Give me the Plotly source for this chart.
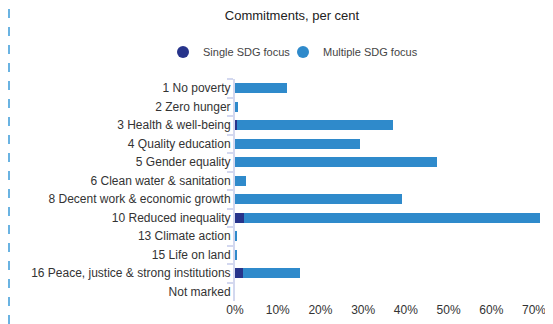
import plotly.graph_objects as go

categories = ["1 No poverty", "2 Zero hunger", "3 Health & well-being", "4 Quality education",
              "5 Gender equality", "6 Clean water & sanitation", "8 Decent work & economic growth",
              "10 Reduced inequality", "13 Climate action", "15 Life on land",
              "16 Peace, justice & strong institutions", "Not marked"]
single_sdg = [0, 0, 0.4, 0, 0, 0, 0, 2.1, 0, 0, 1.9, 0]
multiple_sdg = [12.1, 0.8, 36.5, 29.2, 47.4, 2.5, 39.2, 69.2, 0.4, 0.4, 13.2, 0]
x_ticks = [0, 10, 20, 30, 40, 50, 60, 70]
x_tick_labels = ["0%", "10%", "20%", "30%", "40%", "50%", "60%", "70%"]

navy = "#27348b"
blue = "#2f8acb"
axis_col = "#d3d8ef"

W, H = 545, 316
L, R, T, B = 227, 10, 71, 23
PW, PH = W - L - R, H - T - B

fig = go.Figure()
fig.add_trace(go.Bar(y=categories, x=single_sdg, orientation="h", marker_color=navy,
                     marker_line_width=0, name="Single SDG focus", showlegend=False))
fig.add_trace(go.Bar(y=categories, x=multiple_sdg, orientation="h", marker_color=blue,
                     marker_line_width=0, name="Multiple SDG focus", showlegend=False))
fig.add_trace(go.Scatter(x=[None], y=[None], mode="markers", name="Single SDG focus",
                         legend="legend",
                         marker=dict(symbol="circle", size=11, color=navy)))
fig.add_trace(go.Scatter(x=[None], y=[None], mode="markers", name="Multiple SDG focus",
                         legend="legend2",
                         marker=dict(symbol="circle", size=11, color=blue)))

leg_common = dict(orientation="h", xref="container", yref="container", xanchor="left",
                  y=1 - 44 / H, yanchor="middle", bgcolor="rgba(0,0,0,0)",
                  font=dict(size=11, color="#444444"), itemsizing="constant")

fig.update_layout(
    width=W, height=H,
    margin=dict(l=L, r=R, t=T, b=B, autoexpand=False),
    barmode="stack", bargap=0.45,
    paper_bgcolor="white", plot_bgcolor="white",
    font=dict(family="Liberation Sans, Arial, sans-serif", size=12, color="#333333"),
    title=dict(text="Commitments, per cent", x=284 / W, xanchor="center", y=1 - 7 / H,
               yanchor="middle", font=dict(size=13, color="#222222")),
    legend=dict(x=155 / W, **leg_common),
    legend2=dict(x=275 / W, **leg_common),
    xaxis=dict(range=[0, 72.1], tickvals=x_ticks, ticktext=x_tick_labels, showgrid=False,
               zeroline=False, showline=False, ticks="", automargin=False,
               tickfont=dict(size=12, color="#333333")),
    yaxis=dict(categoryorder="array", categoryarray=categories, autorange="reversed",
               showline=True, linecolor=axis_col, linewidth=2, ticks="outside",
               tickson="boundaries", ticklen=6, tickcolor=axis_col, tickwidth=2,
               showgrid=False, zeroline=False, automargin=False,
               tickfont=dict(size=12, color="#333333")),
    shapes=[dict(type="line", xref="paper", yref="paper",
                 x0=(1 - L) / PW, x1=(1 - L) / PW, y0=-B / PH, y1=(H - B) / PH,
                 line=dict(color="#3a9ad9", width=1.5, dash="dash"))],
)

fig.write_html("out.html")
